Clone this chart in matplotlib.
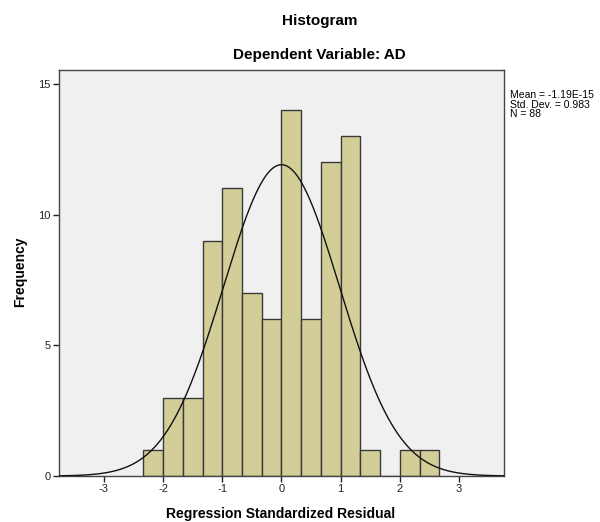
import numpy as np
import matplotlib
matplotlib.use('Agg')
import matplotlib.pyplot as plt

plt.rcParams['font.family'] = ['Liberation Sans', 'DejaVu Sans']
plt.rcParams['axes.unicode_minus'] = False

# Histogram data (bin width 1/3)
bin_left = [-7, -6, -5, -4, -3, -2, -1, 0, 1, 2, 3, 4, 5, 6, 7]  # in thirds
counts = [1, 3, 3, 9, 11, 7, 6, 14, 6, 12, 13, 1, 0, 1, 1]
BIN_WIDTH = 1 / 3

# Summary statistics shown in the chart
MEAN = -1.19e-15
STD = 0.983
N = 88

x_ticks = [-3, -2, -1, 0, 1, 2, 3]
y_ticks = [0, 5, 10, 15]

fig = plt.figure(figsize=(6, 5.22), dpi=100)
ax = fig.add_axes([0.0983, 0.0881, 0.7417, 0.778])
ax.set_facecolor('#F0F0F0')

lefts = np.array(bin_left) * BIN_WIDTH
ax.bar(lefts, counts, width=BIN_WIDTH, align='edge',
       color='#D3CE98', edgecolor='#3a3a3a', linewidth=1.0, zorder=2)

# Normal curve scaled to the histogram
xs = np.linspace(-3.76, 3.76, 400)
pdf = np.exp(-0.5 * ((xs - MEAN) / STD) ** 2) / (STD * np.sqrt(2 * np.pi))
ax.plot(xs, N * BIN_WIDTH * pdf, color='#111111', linewidth=1.0, zorder=3)

ax.set_xlim(-3.76, 3.76)
ax.set_ylim(0, 15.53)
ax.set_xticks(x_ticks)
ax.set_yticks(y_ticks)
ax.tick_params(direction='out', length=4, width=1, labelsize=8,
               colors='#222222', pad=2)
for s in ax.spines.values():
    s.set_color('#444444')
    s.set_linewidth(1)

fig.text(0.533, 0.96, 'Histogram', ha='center', va='center',
         fontsize=11, fontweight='bold')
fig.text(0.533, 0.895, 'Dependent Variable: AD', ha='center', va='center',
         fontsize=11, fontweight='bold')
fig.text(0.033, 0.48, 'Frequency', rotation=90, ha='center', va='center',
         fontsize=10, fontweight='bold')
fig.text(0.468, 0.015, 'Regression Standardized Residual', ha='center',
         va='center', fontsize=10, fontweight='bold')

fig.text(0.85, 0.827,
         'Mean = -1.19E-15\nStd. Dev. = 0.983\nN = 88',
         ha='left', va='top', fontsize=7.5, linespacing=0.92)

fig.savefig('out.png', dpi=100)
